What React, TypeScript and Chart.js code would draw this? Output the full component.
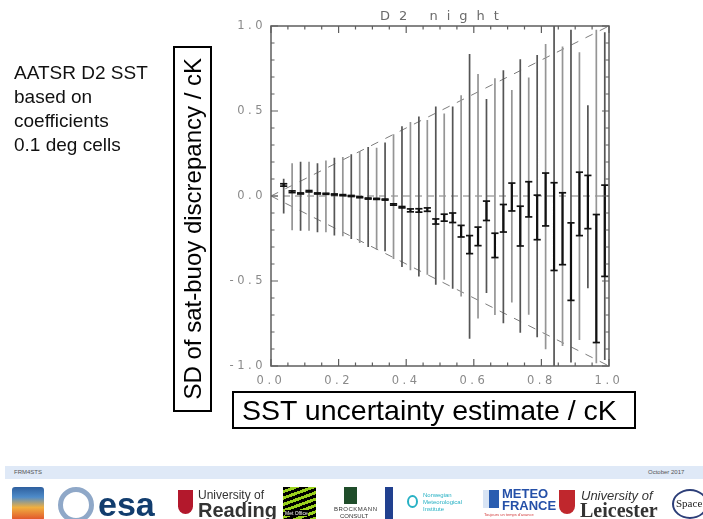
import React, { useEffect, useRef } from "react";
import { Chart, registerables } from "chart.js";

Chart.register(...registerables);

// Bin centres of the SST uncertainty estimate (cK)
const binCenters = [
  0.0375, 0.0625, 0.0875, 0.1125, 0.1375, 0.1625, 0.1875, 0.2125, 0.2375, 0.2625,
  0.2875, 0.3125, 0.3375, 0.3625, 0.3875, 0.4125, 0.4375, 0.4625, 0.4875, 0.5125,
  0.5375, 0.5625, 0.5875, 0.6125, 0.6375, 0.6625, 0.6875, 0.7125, 0.7375, 0.7625,
  0.7875, 0.8125, 0.8375, 0.8625, 0.8875, 0.9125, 0.9375, 0.9625, 0.9875,
];

// Long grey bars: spread (SD) of the sat-buoy discrepancy
const sdLow = [
  -0.103, -0.201, -0.205, -0.205, -0.213, -0.213, -0.233, -0.237, -0.253, -0.276,
  -0.3, -0.316, -0.325, -0.37, -0.418, -0.437, -0.473, -0.463, -0.522, -0.493,
  -0.545, -0.591, -0.84, -0.72, -0.571, -0.7, -0.748, -0.627, -0.804, -0.699,
  -0.831, -0.902, -1.1, -0.882, -0.98, -0.847, -0.542, -0.984, -0.965,
];
const sdHigh = [
  0.101, 0.192, 0.202, 0.202, 0.192, 0.209, 0.225, 0.229, 0.245, 0.265,
  0.288, 0.284, 0.314, 0.363, 0.41, 0.435, 0.467, 0.447, 0.526, 0.485,
  0.526, 0.593, 0.835, 0.717, 0.57, 0.693, 0.74, 0.624, 0.805, 0.697,
  0.829, 0.894, 1.1, 0.88, 0.978, 0.845, 0.534, 0.978, 0.963,
];

// Short black capped bars: mean discrepancy +/- its uncertainty
const meanLow = [
  0.058, 0.02, 0.012, 0.024, 0.012, 0.01, 0.006, 0.002, -0.003, -0.01,
  -0.018, -0.02, -0.024, -0.054, -0.07, -0.093, -0.095, -0.09, -0.165, -0.148,
  -0.156, -0.241, -0.339, -0.292, -0.144, -0.362, -0.212, -0.088, -0.294, -0.123,
  -0.257, -0.176, -0.438, -0.404, -0.614, -0.233, -0.192, -0.862, -0.473,
];
const meanHigh = [
  0.072, 0.03, 0.018, 0.032, 0.018, 0.016, 0.012, 0.008, 0.003, -0.004,
  -0.012, -0.014, -0.018, -0.046, -0.062, -0.076, -0.075, -0.07, -0.135, -0.107,
  -0.1, -0.173, -0.233, -0.183, -0.03, -0.219, -0.05, 0.076, -0.06, 0.084,
  0.005, 0.135, 0.078, 0.019, -0.158, 0.14, 0.121, -0.109, 0.064,
];

// Reference lines: y = 0 and y = +/- x
const refX = [0, 1];
const refZero = [0, 0];
const refUpper = [0, 1];
const refLower = [0, -1];

const xTickValues = [0, 0.2, 0.4, 0.6, 0.8, 1.0];
const xTickLabels = ["0.0", "0.2", "0.4", "0.6", "0.8", "1.0"];
const yTickValues = [-1, -0.5, 0, 0.5, 1];
const yTickLabels = ["-1.0", "-0.5", "0.0", "0.5", "1.0"];

const chartTitle = "D2 night";
const yTitle = "SD of sat-buoy discrepancy / cK";
const xTitle = "SST uncertainty estimate / cK";
const sideText = ["AATSR D2 SST", "based on", "coefficients", "0.1 deg cells"];

function labelFor(values: number[], labels: string[], v: number) {
  const i = values.findIndex((t) => Math.abs(t - v) < 1e-6);
  return i >= 0 ? labels[i] : "";
}

function rangeSegments(lo: number[], hi: number[], parity: number | null) {
  const pts: any[] = [];
  binCenters.forEach((u, i) => {
    if (parity !== null && i % 2 !== parity) return;
    pts.push({ x: u, y: lo[i] }, { x: u, y: hi[i] }, { x: u, y: null });
  });
  return pts;
}

const TICK_SPACING = "3.5px";

const frameTicksPlugin = {
  id: "frameTicks",
  beforeDraw(chart: any) {
    chart.ctx.letterSpacing = TICK_SPACING;
  },
  afterDatasetsDraw(chart: any) {
    const { ctx, chartArea: a, scales } = chart;
    ctx.save();
    ctx.letterSpacing = "0px";
    ctx.strokeStyle = "#5e5e5e";
    ctx.lineWidth = 1.5;
    ctx.strokeRect(a.left, a.top, a.right - a.left, a.bottom - a.top);
    ctx.lineWidth = 1.2;
    ctx.beginPath();
    scales.x.ticks.forEach((t: any) => {
      const px = scales.x.getPixelForValue(t.value);
      const len = labelFor(xTickValues, xTickLabels, t.value) ? 7 : 3.5;
      ctx.moveTo(px, a.bottom);
      ctx.lineTo(px, a.bottom - len);
      ctx.moveTo(px, a.top);
      ctx.lineTo(px, a.top + len);
    });
    scales.y.ticks.forEach((t: any) => {
      const py = scales.y.getPixelForValue(t.value);
      const len = labelFor(yTickValues, yTickLabels, t.value) ? 7 : 3.5;
      ctx.moveTo(a.left, py);
      ctx.lineTo(a.left + len, py);
      ctx.moveTo(a.right, py);
      ctx.lineTo(a.right - len, py);
    });
    ctx.stroke();
    ctx.restore();
    ctx.letterSpacing = TICK_SPACING;
  },
  afterDraw(chart: any) {
    chart.ctx.letterSpacing = "0px";
  },
};

function ErrorBarChart() {
  const ref = useRef<HTMLCanvasElement | null>(null);
  useEffect(() => {
    if (!ref.current) return;
    const dash = "#7c7c7c";
    const tickFont = { family: "DejaVu Sans", size: 11.5 };
    const chart = new Chart(ref.current, {
      type: "line",
      data: {
        datasets: [
          {
            label: "caps",
            data: binCenters.flatMap((u, i) => [
              { x: u, y: meanLow[i] },
              { x: u, y: meanHigh[i] },
            ]),
            showLine: false,
            pointStyle: "line",
            pointRadius: 3.6,
            pointBorderWidth: 1.7,
            pointBorderColor: "#111",
            pointBackgroundColor: "#111",
            order: 0,
          },
          {
            label: "mean",
            data: rangeSegments(meanLow, meanHigh, null),
            borderColor: "#111",
            borderWidth: 2.2,
            pointRadius: 0,
            spanGaps: false,
            order: 1,
          },
          {
            label: "sd even",
            data: rangeSegments(sdLow, sdHigh, 0),
            borderColor: "#555",
            borderWidth: 1.7,
            pointRadius: 0,
            spanGaps: false,
            clip: 0,
            order: 2,
          },
          {
            label: "sd odd",
            data: rangeSegments(sdLow, sdHigh, 1),
            borderColor: "#959595",
            borderWidth: 1.7,
            pointRadius: 0,
            spanGaps: false,
            clip: 0,
            order: 3,
          },
          {
            label: "zero",
            data: refX.map((x, i) => ({ x, y: refZero[i] })),
            borderColor: dash,
            borderWidth: 1,
            borderDash: [7, 5],
            pointRadius: 0,
            order: 4,
          },
          {
            label: "upper",
            data: refX.map((x, i) => ({ x, y: refUpper[i] })),
            borderColor: dash,
            borderWidth: 1,
            borderDash: [8, 8],
            pointRadius: 0,
            order: 4,
          },
          {
            label: "lower",
            data: refX.map((x, i) => ({ x, y: refLower[i] })),
            borderColor: dash,
            borderWidth: 1,
            borderDash: [8, 8],
            pointRadius: 0,
            order: 4,
          },
        ],
      },
      options: {
        animation: false,
        responsive: false,
        devicePixelRatio: 1,
        events: [],
        layout: { padding: { left: 211, right: 94, top: 26, bottom: 123 } },
        plugins: {
          legend: { display: false },
          tooltip: { enabled: false },
          title: { display: false },
        },
        scales: {
          x: {
            type: "linear",
            min: 0,
            max: 1,
            grid: { display: false, drawTicks: false },
            border: { display: false },
            afterFit: (s: any) => {
              s.height = 30;
            },
            ticks: {
              stepSize: 0.05,
              autoSkip: false,
              maxRotation: 0,
              padding: 8,
              color: "#8a8a8a",
              font: tickFont,
              callback: (v: any) => labelFor(xTickValues, xTickLabels, Number(v)),
            },
          },
          y: {
            type: "linear",
            min: -1,
            max: 1,
            grid: { display: false, drawTicks: false },
            border: { display: false },
            afterFit: (s: any) => {
              s.width = 60;
            },
            ticks: {
              stepSize: 0.1,
              autoSkip: false,
              padding: 5,
              color: "#8a8a8a",
              font: tickFont,
              callback: (v: any) => labelFor(yTickValues, yTickLabels, Number(v)),
            },
          },
        },
      },
      plugins: [frameTicksPlugin],
    } as any);
    return () => chart.destroy();
  }, []);
  return (
    <canvas
      ref={ref}
      width={703}
      height={519}
      style={{ position: "absolute", left: 0, top: 0, width: 703, height: 519 }}
    />
  );
}

const abs = (s: React.CSSProperties): React.CSSProperties => ({ position: "absolute", ...s });

export default function App() {
  const sans = "'Liberation Sans', Arial, sans-serif";
  return (
    <div
      style={{
        position: "absolute",
        left: 0,
        top: 0,
        width: 703,
        height: 519,
        overflow: "hidden",
        background: "#fff",
        fontFamily: sans,
      }}
    >
      <ErrorBarChart />

      {/* plot title */}
      <div
        style={abs({
          left: 380,
          top: 9,
          fontFamily: "'DejaVu Sans', sans-serif",
          fontSize: 13,
          lineHeight: "13px",
          letterSpacing: 9,
          color: "#6a6a6a",
          whiteSpace: "nowrap",
        })}
      >
        {chartTitle}
      </div>

      {/* side caption */}
      <div style={abs({ left: 14, top: 61, fontSize: 19, lineHeight: "24px", color: "#111" })}>
        {sideText.map((t) => (
          <div key={t} style={{ whiteSpace: "nowrap" }}>
            {t}
          </div>
        ))}
      </div>

      {/* y axis title box */}
      <div
        style={abs({
          left: 173,
          top: 46,
          width: 39,
          height: 366,
          boxSizing: "border-box",
          border: "2px solid #000",
          display: "flex",
          alignItems: "center",
          justifyContent: "center",
        })}
      >
        <div
          style={{
            writingMode: "vertical-rl",
            transform: "rotate(180deg)",
            fontSize: 24,
            lineHeight: "30px",
            whiteSpace: "nowrap",
            color: "#000",
          }}
        >
          {yTitle}
        </div>
      </div>

      {/* x axis title box */}
      <div
        style={abs({
          left: 232,
          top: 391,
          width: 404,
          height: 38,
          boxSizing: "border-box",
          border: "2px solid #000",
          display: "flex",
          alignItems: "center",
          paddingLeft: 8,
        })}
      >
        <div style={{ fontSize: 28.5, lineHeight: "32px", whiteSpace: "nowrap", color: "#000" }}>
          {xTitle}
        </div>
      </div>

      {/* footer band */}
      <div style={abs({ left: 5, top: 466, width: 698, height: 13, background: "#dfe9f7" })} />
      <div style={abs({ left: 14, top: 469, fontSize: 6, color: "#555" })}>FRM4STS</div>
      <div style={abs({ left: 648, top: 469, fontSize: 6, color: "#555" })}>October 2017</div>

      {/* logos row (approximation) */}
      <div
        style={abs({
          left: 12,
          top: 487,
          width: 32,
          height: 34,
          borderRadius: 3,
          background: "linear-gradient(180deg,#2e5f9e 0%,#4f8cc9 30%,#f0b040 60%,#e04a28 100%)",
        })}
      />
      <div
        style={abs({
          left: 58,
          top: 487,
          width: 36,
          height: 36,
          borderRadius: "50%",
          border: "5px solid #8fa8c8",
          boxSizing: "border-box",
        })}
      />
      <div style={abs({ left: 98, top: 484, fontSize: 34, fontWeight: 700, color: "#123d6e", lineHeight: "40px" })}>
        esa
      </div>
      <div style={abs({ left: 178, top: 490, width: 15, height: 24, background: "#b3182c", borderRadius: "0 0 8px 8px" })} />
      <div style={abs({ left: 198, top: 489, fontSize: 12, lineHeight: "13px", color: "#333" })}>University of</div>
      <div style={abs({ left: 198, top: 499, fontSize: 20, lineHeight: "22px", color: "#333", fontWeight: 700 })}>
        Reading
      </div>
      <div
        style={abs({
          left: 283,
          top: 487,
          width: 33,
          height: 34,
          background: "repeating-linear-gradient(160deg,#000 0 3px,#9ad11e 3px 6px)",
        })}
      />
      <div style={abs({ left: 285, top: 510, fontSize: 5, color: "#fff", background: "#000" })}>Met Office</div>
      <div style={abs({ left: 344, top: 487, width: 13, height: 17, background: "#1f4d2a" })} />
      <div style={abs({ left: 334, top: 506, fontSize: 6, color: "#333", letterSpacing: 0.5 })}>BROCKMANN</div>
      <div style={abs({ left: 340, top: 513, fontSize: 6, color: "#333" })}>CONSULT</div>
      <div style={abs({ left: 385, top: 487, width: 8, height: 34, background: "#21408f" })} />
      <div
        style={abs({
          left: 407,
          top: 495,
          width: 11,
          height: 13,
          borderRadius: "50%",
          border: "2px solid #27b1c4",
          boxSizing: "border-box",
        })}
      />
      <div style={abs({ left: 423, top: 492, fontSize: 6, lineHeight: "7px", color: "#27b1c4" })}>
        <div>Norwegian</div>
        <div>Meteorological</div>
        <div>Institute</div>
      </div>
      <div style={abs({ left: 483, top: 490, width: 16, height: 18, background: "linear-gradient(90deg,#d8e4f4 0 40%,#2a5db0 40%)" })} />
      <div style={abs({ left: 502, top: 488, fontSize: 13, lineHeight: "12px", fontWeight: 700, color: "#2550a8" })}>
        <div>METEO</div>
        <div>FRANCE</div>
      </div>
      <div style={abs({ left: 484, top: 512, fontSize: 4, color: "#d23a3a" })}>Toujours un temps d'avance</div>
      <div style={abs({ left: 559, top: 490, width: 16, height: 24, background: "#c0272d", borderRadius: "0 0 8px 8px" })} />
      <div style={abs({ left: 581, top: 489, fontSize: 13, lineHeight: "13px", color: "#333", fontStyle: "italic" })}>
        University of
      </div>
      <div
        style={abs({
          left: 580,
          top: 499,
          fontSize: 20,
          lineHeight: "22px",
          color: "#333",
          fontWeight: 700,
          fontFamily: "'Liberation Serif', serif",
        })}
      >
        Leicester
      </div>
      <div
        style={abs({
          left: 672,
          top: 489,
          width: 36,
          height: 30,
          borderRadius: "50%",
          border: "2px solid #2c3e78",
          boxSizing: "border-box",
        })}
      />
      <div style={abs({ left: 676, top: 497, fontSize: 11, color: "#222", fontFamily: "'Liberation Serif', serif" })}>
        Space
      </div>
    </div>
  );
}
